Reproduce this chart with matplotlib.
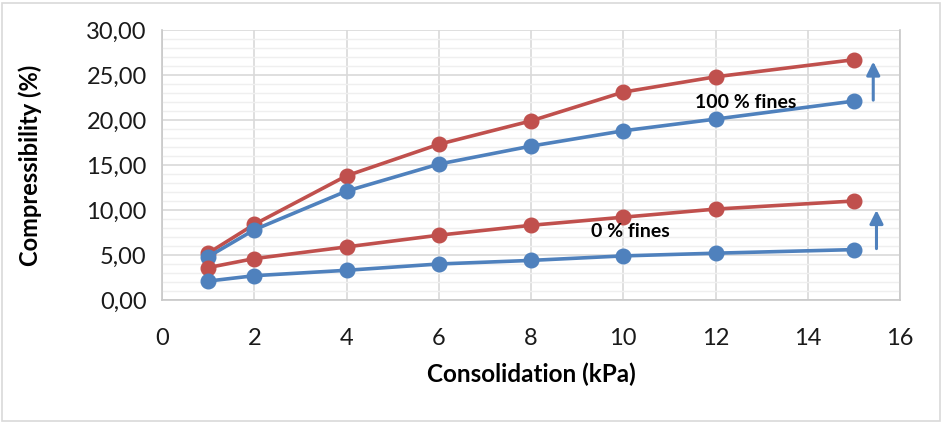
import matplotlib
matplotlib.use("Agg")
import matplotlib.pyplot as plt
from matplotlib.ticker import MultipleLocator, FuncFormatter
from matplotlib.patches import Rectangle

consolidation = [1, 2, 4, 6, 8, 10, 12, 15]
fines100_red = [5.2, 8.4, 13.8, 17.3, 19.9, 23.1, 24.8, 26.7]
fines100_blue = [4.8, 7.8, 12.1, 15.1, 17.1, 18.8, 20.1, 22.1]
fines0_red = [3.6, 4.6, 5.9, 7.2, 8.3, 9.2, 10.1, 11.0]
fines0_blue = [2.1, 2.7, 3.3, 4.0, 4.4, 4.9, 5.2, 5.6]

RED = "#c0504d"
BLUE = "#4f81bd"

plt.rcParams['font.family'] = ['Lato', 'DejaVu Sans']

fig = plt.figure(figsize=(9.44, 4.23), dpi=100)
ax = fig.add_axes([162/944, 1-300/423, (900-162)/944, (300-30)/423])

for ys, c in [(fines100_red, RED), (fines100_blue, BLUE), (fines0_red, RED), (fines0_blue, BLUE)]:
    ax.plot(consolidation, ys, color=c, lw=2.6, marker='o', ms=10.5, zorder=3)

ax.set_xlim(0, 16)
ax.set_ylim(0, 30)
ax.xaxis.set_major_locator(MultipleLocator(2))
ax.yaxis.set_major_locator(MultipleLocator(5))
ax.yaxis.set_minor_locator(MultipleLocator(1))
ax.yaxis.set_major_formatter(FuncFormatter(lambda v, p: f"{v:.2f}".replace('.', ',')))
ax.grid(which='major', color='#d9d9d9', lw=1.2, zorder=0)
ax.grid(which='minor', axis='y', color='#efefef', lw=1.0, zorder=0)
ax.tick_params(which='both', length=0, labelsize=17, colors='#1a1a1a')
ax.tick_params(axis='y', pad=11)
ax.tick_params(axis='x', pad=20)
ax.spines['top'].set_visible(False)
for s in ['left', 'bottom', 'right']:
    ax.spines[s].set_color('#c8c8c8')
    ax.spines[s].set_linewidth(1.2)

ax.set_xlabel("Consolidation (kPa)", fontsize=17.5, fontweight='bold', labelpad=10)
ax.set_ylabel("Compressibility (%)", fontsize=17, fontweight='bold')
ax.yaxis.set_label_coords(-0.179, 0.5)
ax.yaxis.label.set_va('center')

ax.text(12.65, 21.9, "100 % fines", fontsize=14, fontweight='bold', ha='center', va='center', zorder=4)
ax.text(10.15, 7.6, "0 % fines", fontsize=14, fontweight='bold', ha='center', va='center', zorder=4)

arrow_kw = dict(arrowstyle='-|>,head_length=0.8,head_width=0.4', color=BLUE, lw=2.2)
ax.annotate("", xy=(15.42, 26.8), xytext=(15.42, 21.9), arrowprops=arrow_kw)
ax.annotate("", xy=(15.49, 10.3), xytext=(15.49, 5.4), arrowprops=arrow_kw)

fig.patches.append(Rectangle((2/944, 2/423), 938/944, 418/423, transform=fig.transFigure,
                             fill=False, edgecolor='#d9d9d9', lw=1.2))

fig.savefig("out.png", dpi=100)
